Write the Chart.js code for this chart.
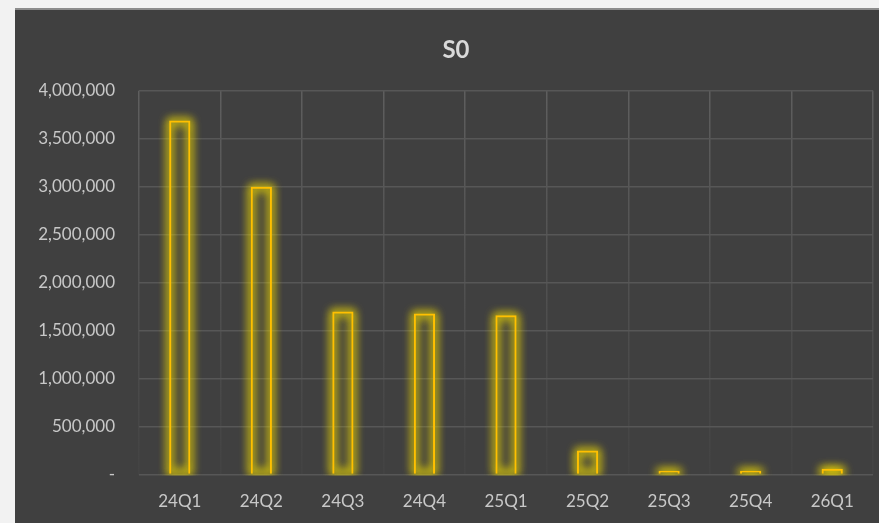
<!DOCTYPE html>
<html>
<head>
<meta charset="utf-8">
<script src="https://cdn.jsdelivr.net/npm/chart.js@4"></script>
<style>
  html, body { margin: 0; padding: 0; background: #f2f2f2; overflow: hidden; }
  #wrap {
    position: absolute; left: 15px; top: 8px;
    width: 882px; height: 515px;
    background: #404040;
    border-top: 2px solid #8c8c8c;
    box-sizing: border-box;
  }
</style>
</head>
<body>
<div id="wrap"><canvas id="s0_chart"></canvas></div>
<script>
const quarters = ["24Q1", "24Q2", "24Q3", "24Q4", "25Q1", "25Q2", "25Q3", "25Q4", "26Q1"];
const s0_values = [3690000, 3000000, 1700000, 1680000, 1660000, 250000, 40000, 40000, 60000];

const s0_ctx = document.getElementById("s0_chart");

// soft yellow glow under each bar outline (only the shadow is drawn on screen)
const glow = {
  id: "glow",
  beforeDatasetsDraw(chart) {
    const c = chart.ctx;
    const area = chart.chartArea;
    const shift = 10000;
    c.save();
    c.beginPath();
    c.rect(area.left, area.top - 20, area.right - area.left, area.bottom - area.top + 21);
    c.clip();
    c.strokeStyle = "#ffd700";
    c.lineWidth = 4;
    c.shadowColor = "rgba(240, 220, 0, 0.85)";
    c.shadowBlur = 10;
    c.shadowOffsetX = shift;
    chart.getDatasetMeta(0).data.forEach((bar) => {
      const p = bar.getProps(["x", "y", "base", "width"], true);
      for (let k = 0; k < 2; k++) {
        c.strokeRect(p.x - p.width / 2 + 1 - shift, p.y + 1, p.width - 2, p.base - p.y - 2);
      }
    });
    c.restore();
  },
};

function fade_grid(ctx) {
  const area = ctx.chart.chartArea;
  if (!area) return "#595959";
  const g = ctx.chart.ctx.createLinearGradient(0, area.top, 0, area.bottom);
  g.addColorStop(0, "#5e5e5e");
  g.addColorStop(1, "#434343");
  return g;
}

const s0_chart = new Chart(s0_ctx, {
  type: "bar",
  data: {
    labels: quarters,
    datasets: [
      {
        data: s0_values,
        backgroundColor: "rgba(0,0,0,0)",
        borderColor: "#FFC000",
        borderWidth: 2,
        barPercentage: 0.26,
        categoryPercentage: 1,
      },
    ],
  },
  plugins: [glow],
  options: {
    responsive: true,
    maintainAspectRatio: false,
    animation: false,
    layout: { padding: { left: 24, right: 24, top: 0, bottom: -6 } },
    plugins: {
      legend: { display: false },
      tooltip: { enabled: false },
      title: {
        display: true,
        text: "S0",
        color: "#d9d9d9",
        font: { family: "Lato", size: 24, weight: "bold" },
        padding: { top: 26, bottom: 26 },
      },
    },
    scales: {
      x: {
        grid: { color: fade_grid, lineWidth: 1.5, drawTicks: false },
        border: { display: false },
        ticks: {
          color: "#c8c8c8",
          font: { family: "Lato", size: 17 },
          padding: 17,
        },
      },
      y: {
        min: 0,
        max: 4000000,
        grid: { color: "#575757", lineWidth: 1.5, drawTicks: false },
        border: { display: false },
        afterFit: (scale) => {
          scale.width = 100;
        },
        ticks: {
          stepSize: 500000,
          color: "#c8c8c8",
          font: { family: "Lato", size: 17 },
          padding: 24,
          callback: (v) => (v === 0 ? "-" : v.toLocaleString("en-US")),
        },
      },
    },
  },
});
</script>
</body>
</html>
